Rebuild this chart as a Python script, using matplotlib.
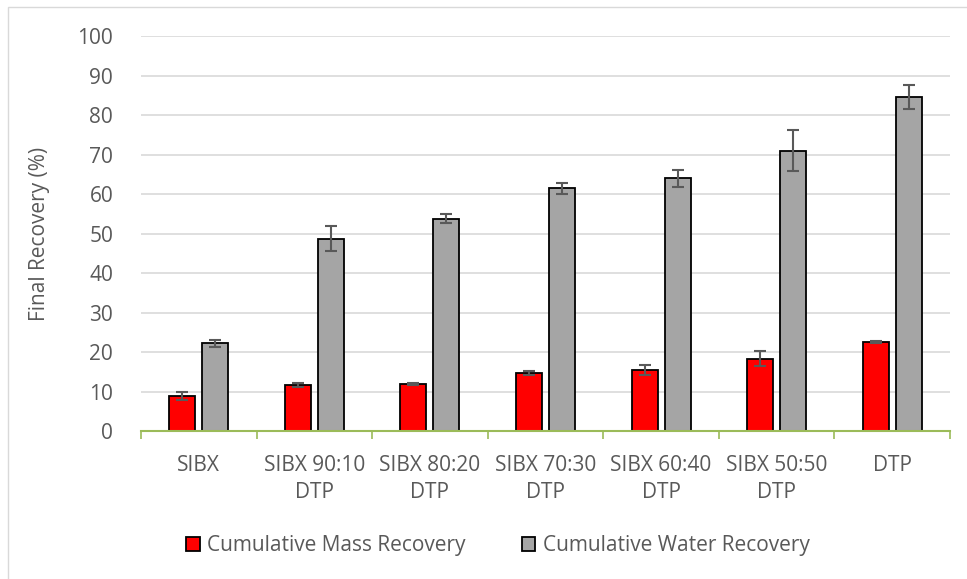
import numpy as np
import matplotlib.pyplot as plt
from matplotlib.patches import Rectangle

categories = ['SIBX', 'SIBX 90:10\nDTP', 'SIBX 80:20\nDTP', 'SIBX 70:30\nDTP',
              'SIBX 60:40\nDTP', 'SIBX 50:50\nDTP', 'DTP']
mass_recovery = [8.9, 11.6, 11.9, 14.8, 15.4, 18.3, 22.6]
mass_err = [1.0, 0.5, 0.2, 0.5, 1.2, 1.9, 0.2]
water_recovery = [22.2, 48.7, 53.8, 61.4, 64.0, 71.0, 84.5]
water_err = [0.9, 3.2, 1.2, 1.5, 2.2, 5.2, 3.0]

plt.rcParams['font.family'] = ['Open Sans', 'DejaVu Sans']
text_color = '#595959'
fs = 15

fig = plt.figure(figsize=(9.67, 5.79), dpi=100)
ax = fig.add_axes([0.1458, 0.2556, 0.8366, 0.6822])

# light chart border (cropped on right/bottom like the reference)
fig.patches.append(Rectangle((8 / 967, -0.1), 1.2, 1 - 7 / 579 + 0.1,
                             transform=fig.transFigure, fill=False,
                             edgecolor='#D9D9D9', linewidth=1))

x = np.arange(len(categories))
width = 0.225
offset = 0.143
err_kw = dict(ecolor='#595959', elinewidth=1.5, capsize=4.5, capthick=1.5)

ax.bar(x - offset, mass_recovery, width, yerr=mass_err, color='#FF0000',
       edgecolor='black', linewidth=1.3, label='Cumulative Mass Recovery',
       error_kw=err_kw, zorder=3)
ax.bar(x + offset, water_recovery, width, yerr=water_err, color='#A5A5A5',
       edgecolor='black', linewidth=1.3, label='Cumulative Water Recovery',
       error_kw=err_kw, zorder=3)

ax.set_xlim(-0.5, len(categories) - 0.5)
ax.set_ylim(0, 100)
ax.set_yticks(range(0, 101, 10))
ax.yaxis.grid(True, color='#D9D9D9', linewidth=1.2)
ax.set_axisbelow(True)

ax.set_xticks(x)
ax.set_xticklabels(categories, fontsize=fs, color=text_color, linespacing=1.4)
ax.set_xticks(np.arange(-0.5, len(categories)), minor=True)
ax.tick_params(axis='x', which='major', length=0, pad=17)
ax.tick_params(axis='x', which='minor', length=6, color='#9BBB59', width=1.2)
ax.tick_params(axis='y', length=0, labelsize=fs, labelcolor=text_color, pad=20)

for s in ['top', 'right', 'left']:
    ax.spines[s].set_visible(False)
ax.spines['bottom'].set_color('#9BBB59')
ax.spines['bottom'].set_linewidth(1.5)
ax.spines['bottom'].set_zorder(4)

ax.set_ylabel('Final Recovery (%)', fontsize=fs, color=text_color, labelpad=20)

leg = fig.legend(loc='center', bbox_to_anchor=(0.515, 0.057), ncol=2, frameon=False,
                 fontsize=fs, handlelength=0.65, handleheight=0.65,
                 handletextpad=0.35, columnspacing=2.7)
for t in leg.get_texts():
    t.set_color(text_color)

fig.savefig('out.png', dpi=100)
